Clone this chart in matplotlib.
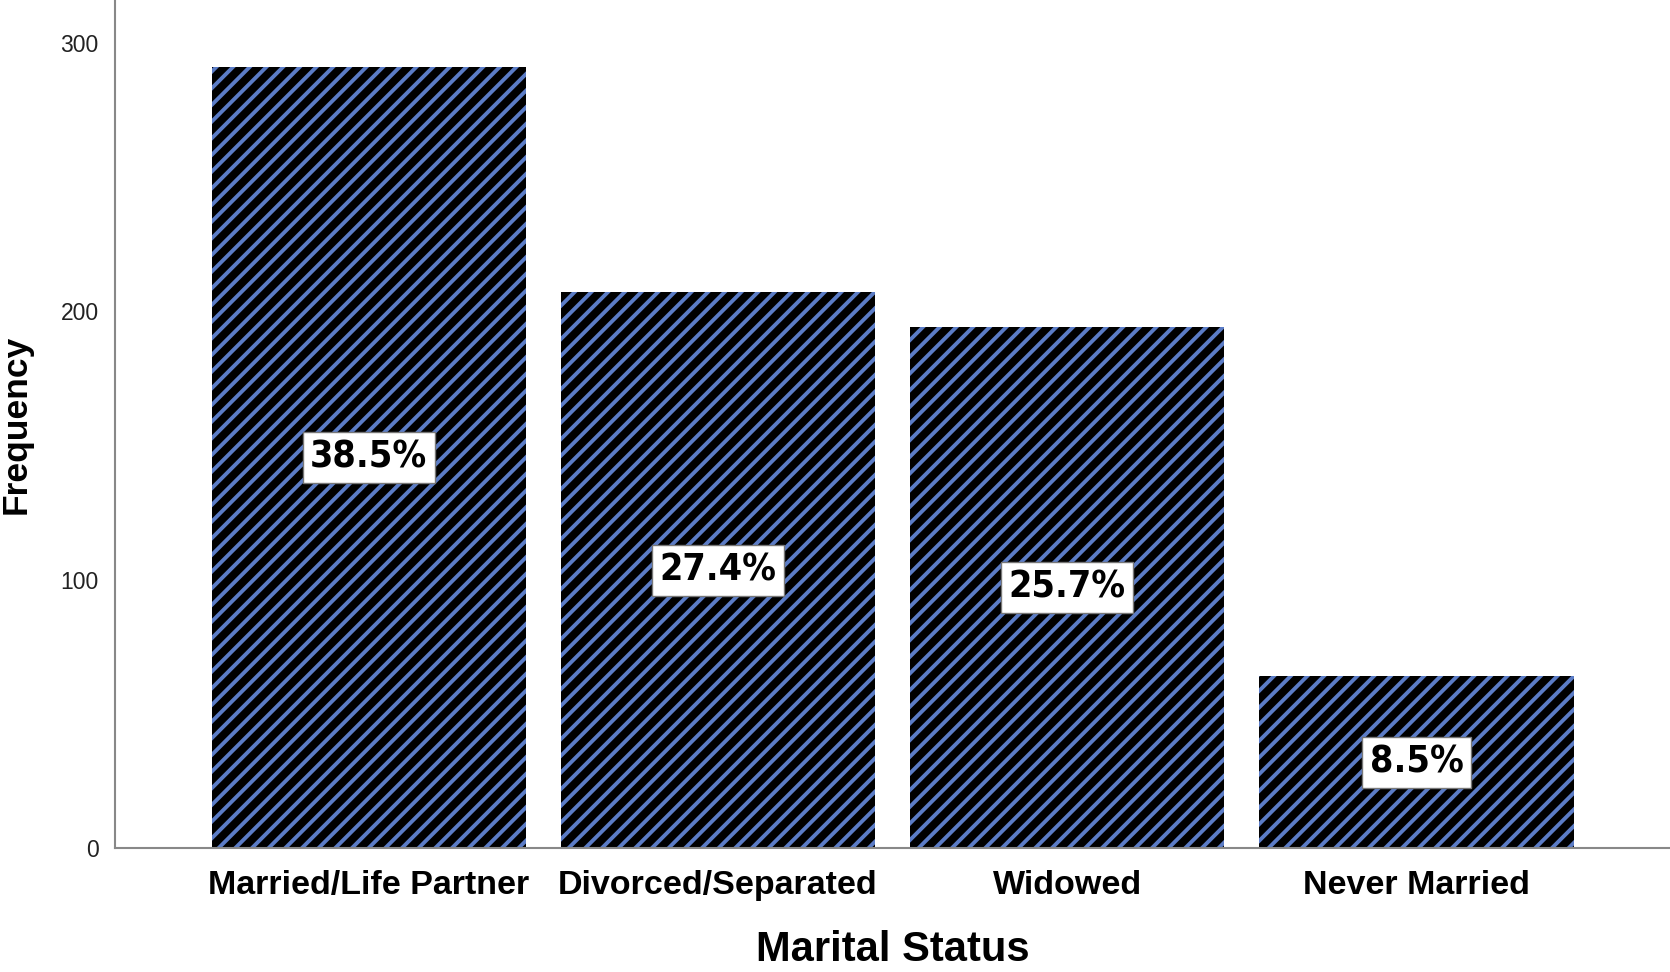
import matplotlib
matplotlib.use('Agg')
import matplotlib.pyplot as plt

categories = ["Married/Life Partner", "Divorced/Separated", "Widowed", "Never Married"]
frequency = [291, 207, 194, 64]
percent_labels = ["38.5%", "27.4%", "25.7%", "8.5%"]
y_ticks = [0, 100, 200, 300]

plt.rcParams['hatch.linewidth'] = 2.8

fig = plt.figure(figsize=(16.7, 9.72), dpi=100)
ax = fig.add_axes([0.069, 0.1276, 0.931, 0.8724])

x = range(len(categories))
ax.bar(x, frequency, width=0.9, color='black', edgecolor='#5b7cc6',
       linewidth=0, hatch='//')

# percentage boxes at half bar height
for xi, val, lab in zip(x, frequency, percent_labels):
    ax.text(xi, val / 2, lab, ha='center', va='center',
            fontsize=27, fontweight='bold', fontstretch='condensed',
            family='DejaVu Sans',
            bbox=dict(boxstyle='square,pad=0.2', facecolor='white',
                      edgecolor='#777777', linewidth=1))

ax.set_xlim(-0.726, 3.726)
ax.set_ylim(0, 316)
ax.set_yticks(y_ticks)
ax.set_yticklabels([str(t) for t in y_ticks], fontsize=16.5,
                   family='Liberation Sans', color='#222222')
ax.set_xticks(list(x))
ax.set_xticklabels(categories, fontsize=24.5, fontweight='bold',
                   family='Liberation Sans')
ax.tick_params(axis='y', length=0, pad=12)
ax.tick_params(axis='x', length=0, pad=16)

ax.set_xlabel('Marital Status', fontsize=30, fontweight='bold',
              family='Liberation Sans', labelpad=21)
ax.set_ylabel('Frequency', fontsize=25.5, fontweight='bold',
              family='Liberation Sans', labelpad=20)

for side in ['top', 'right']:
    ax.spines[side].set_visible(False)
for side in ['left', 'bottom']:
    ax.spines[side].set_color('#888888')
    ax.spines[side].set_linewidth(1.5)

fig.savefig('out.png', dpi=100)
